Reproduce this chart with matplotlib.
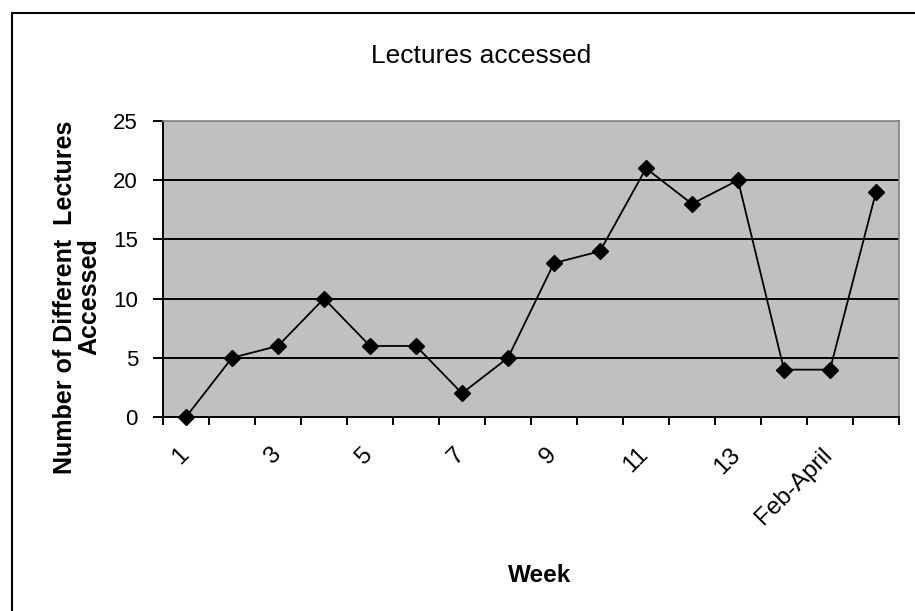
import matplotlib
matplotlib.use("Agg")
import matplotlib.pyplot as plt
from matplotlib.patches import Rectangle
from matplotlib.transforms import ScaledTranslation
import numpy as np

plt.rcParams['font.family'] = ['Liberation Sans', 'DejaVu Sans']

# weeks 1-14, then the Feb-April total and one more (unlabelled in the chart)
weeks = ['1', '2', '3', '4', '5', '6', '7', '8', '9', '10', '11', '12', '13', '14',
         'Feb-April', '']
lectures = [0, 5, 6, 10, 6, 6, 2, 5, 13, 14, 21, 18, 20, 4, 4, 19]
y_ticks = [0, 5, 10, 15, 20, 25]

W, H = 915, 611
fig = plt.figure(figsize=(W / 100, H / 100), dpi=100)
fig.patch.set_facecolor('white')

# plot area in pixel coords
left, right, top, bottom = 163, 899, 121, 417
ax = fig.add_axes([left / W, 1 - bottom / H, (right - left) / W, (bottom - top) / H])
ax.set_facecolor('#C0C0C0')

x = np.arange(len(weeks))
ax.plot(x, lectures, color='black', lw=1.3, marker='D', markersize=8.5,
        markerfacecolor='black', markeredgecolor='black', zorder=3, clip_on=False)

ax.set_xlim(-0.5, len(weeks) - 0.5)
ax.set_ylim(0, 25)
ax.set_yticks(y_ticks)
for v in y_ticks[1:-1]:
    ax.axhline(v, color='black', lw=1.4, zorder=1)

# category ticks between the categories, every other label shown
ax.set_xticks(np.arange(-0.5, len(weeks), 1), minor=True)
ax.set_xticks(x[::2])
ax.set_xticklabels(weeks[::2], rotation=45, ha='right', va='top')
ax.tick_params(axis='x', which='major', length=0, pad=19, labelsize=17.5)
ax.tick_params(axis='x', which='minor', length=6, width=1.4, direction='out')
ax.tick_params(axis='y', length=7, width=1.4, direction='out', pad=11, labelsize=16)

# nudge the slanted labels a little to the right, as in the original
shift = ScaledTranslation(7 / 100, 0, fig.dpi_scale_trans)
for lbl in ax.get_xticklabels():
    lbl.set_transform(lbl.get_transform() + shift)

for s in ['left', 'bottom']:
    ax.spines[s].set_color('black')
    ax.spines[s].set_linewidth(1.4)
for s in ['top', 'right']:
    ax.spines[s].set_color('#808080')
    ax.spines[s].set_linewidth(1.2)

fig.text(481 / W, 1 - 56 / H, 'Lectures accessed', ha='center', va='center', fontsize=19)
fig.text(540 / W, 1 - 575 / H, 'Week', ha='center', va='center',
         fontsize=17.5, fontweight='bold')
fig.text(77 / W, 1 - 297 / H, 'Number of Different  Lectures\nAccessed', ha='center',
         va='center', rotation=90, fontsize=18, fontweight='bold',
         multialignment='center', linespacing=1.0)

# outer chart border, running off the right and bottom edges
fig.patches.append(Rectangle((12 / W, -0.05), 1.1, 1.05 - 13 / H,
                             transform=fig.transFigure, fill=False,
                             edgecolor='black', lw=1.5))

fig.savefig('out.png', dpi=100)
